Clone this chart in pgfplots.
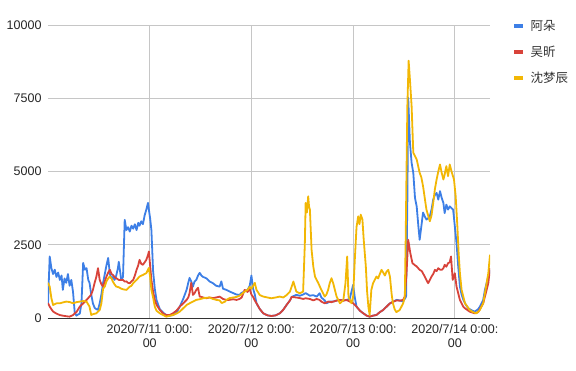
\documentclass[border=0pt]{standalone}
\usepackage{pgfplots}
\pgfplotsset{compat=1.18}
\usepackage{fontspec}
\setmainfont{Liberation Sans}
\newfontfamily\cjk{Noto Sans CJK SC}
\definecolor{cblue}{HTML}{3D7FE6}
\definecolor{cred}{HTML}{D8433A}
\definecolor{cyellow}{HTML}{F2B705}
\definecolor{gridc}{HTML}{C6C6C6}
\begin{document}
\begin{tikzpicture}
\useasboundingbox (-48pt,-52pt) rectangle (528pt,318pt);
\begin{axis}[
  at={(0,0)}, anchor=south west,
  scale only axis, width=442pt, height=293pt,
  xmin=0, xmax=104.3, ymin=0, ymax=10000,
  scaled y ticks=false,
  axis line style={draw=none},
  major tick length=0pt,
  ytick={0,2500,5000,7500,10000},
  yticklabels={0,2500,5000,7500,10000},
  xtick={24,48,72,96},
  xticklabels={{2020/7/11 0:00:\\00},{2020/7/12 0:00:\\00},{2020/7/13 0:00:\\00},{2020/7/14 0:00:\\00}},
  xticklabel style={align=center, font=\fontsize{12.5}{14}\selectfont, text=black!85, yshift=-3pt},
  yticklabel style={font=\fontsize{12.5}{14}\selectfont, text=black!85, xshift=-3pt},
  /pgf/number format/assume math mode=true,
  grid=major,
  grid style={gridc, line width=0.8pt},
  extra y ticks={0}, extra y tick labels={},
  extra y tick style={grid style={black!80, line width=1pt}},
  legend cell align=left,
  legend style={at={(1,1)}, anchor=north west, xshift=22pt, yshift=6pt,
    draw=none, fill=none, row sep=11pt, inner sep=0pt,
    font=\fontsize{12.5}{14}\selectfont\cjk, text=black!80,
    nodes={inner sep=1.5pt},
    /tikz/every odd column/.append style={column sep=4pt}},
  legend image code/.code={\draw[line width=4pt, line cap=butt] (0pt,0pt) -- (9pt,0pt);},
  every axis plot/.append style={line width=1.8pt, line join=round},
]
\addplot[cblue] coordinates {
(0,500) (0.4,2100) (0.8,1700) (1.2,1500) (1.6,1650) (2.0,1400) (2.4,1550) (2.8,1300) (3.2,1450) (3.5,960) (3.9,1350) (4.3,1200) (4.7,1500) (5.1,1100) (5.5,1300) (5.9,900) (6.3,200) (6.7,80) (7.1,120) (7.5,150) (7.9,500) (8.3,1880) (8.7,1650) (9.1,1700) (9.5,1300) (9.8,1200) (10.2,800) (10.6,500) (11.0,350) (11.4,300) (11.8,280) (12.2,500) (12.6,800) (13.0,1200) (13.4,1500) (13.8,1800) (14.2,2050) (14.6,1500) (15.0,1350) (15.3,1400) (15.7,1300) (16.1,1450) (16.5,1700) (16.7,1920) (17.0,1600) (17.3,1300) (17.7,1400) (18.1,3350) (18.5,3000) (18.9,3100) (19.3,2950) (19.7,3150) (20.1,3050) (20.5,3200) (20.9,3000) (21.3,3250) (21.6,3150) (22.0,3300) (22.4,3200) (22.8,3500) (23.2,3700) (23.6,3930) (23.8,3700) (24.1,3400) (24.4,3000) (24.8,1600) (25.2,1000) (25.6,620) (26.0,450) (26.4,300) (27.2,180) (27.9,100) (28.7,80) (29.5,100) (30.3,180) (31.1,390) (31.9,650) (32.7,960) (33.1,1200) (33.4,1370) (33.8,1250) (34.2,1070) (34.6,1250) (35.0,1300) (35.4,1450) (35.8,1540) (36.2,1450) (36.6,1400) (37.0,1380) (37.4,1350) (38.1,1250) (38.9,1190) (39.7,1100) (40.5,1070) (40.9,1250) (41.3,1000) (42.1,960) (42.9,900) (43.7,850) (44.5,800) (45.2,790)
(45.7,860) (47.1,960) (47.6,1100) (48.0,1450) (48.4,1000) (48.8,800) (49.2,502) (50.0,300) (50.8,160) (51.8,90) (52.7,68) (53.7,90) (54.7,160) (55.5,280) (56.3,445) (57.1,600) (57.5,720) (58.6,790) (59.4,760) (60.2,800) (60.8,850) (61.8,760) (62.6,780) (63.4,730) (64.1,845) (64.5,700) (65.3,600) (65.7,502) (66.5,560) (67.3,560) (68.1,600) (68.9,617) (69.7,600) (70.4,617) (71.2,650) (72.0,1130) (72.4,700) (72.8,388) (73.6,250) (74.4,160) (75.2,80) (75.9,46) (76.7,80) (77.5,103) (78.3,200) (79.1,274) (79.9,388) (80.7,502) (81.5,560) (82.3,620) (83.0,600) (83.8,560) (84.5,731) (84.8,4000) (85.0,7520) (85.4,6000) (85.8,5300) (86.2,4950) (86.6,4100) (87.0,3810) (87.4,3130) (87.7,2670) (88.1,3130) (88.5,3600) (88.9,3470) (89.3,3360) (89.7,3400) (90.1,3470) (90.5,3700) (90.9,4040) (91.3,4200) (91.7,4270) (92.1,4040) (92.5,4330) (92.9,4100) (93.3,3930) (93.6,3580) (94.0,3870) (94.4,3700) (94.8,3810) (95.2,3750) (95.6,3700) (96.0,3130) (96.4,2560) (96.8,1760) (97.2,1070) (97.6,800) (98.0,620) (98.6,450) (99.2,330) (100.0,260) (100.7,217) (101.5,300) (101.9,388) (102.7,620) (103.1,960) (103.7,1300) (104.3,1640)
};
\addlegendentry{阿朵}
\addplot[cred] coordinates {
(0,510) (0.4,390) (0.8,300) (1.2,220) (2.0,150) (2.8,100) (3.5,80) (4.3,60) (5.1,46) (5.9,100) (6.3,160) (6.7,200) (7.5,388) (8.3,500) (9.1,617) (9.8,731) (10.2,800) (10.6,960) (11.0,1200) (11.4,1400) (11.8,1700) (12.2,1300) (12.6,1150) (13.0,1073) (13.4,1250) (13.8,1416) (14.2,1550) (14.6,1644) (15.0,1500) (15.3,1473) (15.7,1400) (16.1,1358) (16.7,1300) (17.3,1301) (17.7,1300) (18.1,1244) (18.5,1250) (18.9,1200) (19.3,1187) (19.7,1250) (20.1,1301) (20.5,1450) (20.9,1644) (21.3,1800) (21.6,1987) (22.0,1850) (22.4,1815) (22.8,1900) (23.2,1987) (23.6,2150) (23.8,2270) (24.1,1800) (24.4,1301) (24.8,900) (25.2,617) (25.6,450) (26.4,274) (27.2,150) (27.9,103) (28.7,100) (29.5,160) (30.3,250) (31.1,388) (31.9,500) (32.7,617) (33.1,700) (33.4,845) (33.8,1200) (34.2,788) (34.6,850) (35.0,960) (35.4,1030) (35.8,731) (36.2,720) (36.6,700) (37.4,674) (38.1,700) (38.9,680) (39.7,700) (40.5,731) (41.3,650) (42.1,617) (42.9,620) (43.7,640) (44.5,617) (45.2,650) (45.7,700) (46.4,960) (47.1,890) (47.6,1000) (48.0,800) (48.4,720) (48.8,600) (49.2,502) (50.0,300) (50.8,160) (51.8,90) (52.7,68) (53.7,90) (54.7,160) (55.5,280) (56.3,445) (57.1,600) (57.5,720) (58.6,700) (59.4,680) (60.2,650) (60.8,674) (61.8,650) (62.6,600) (63.4,650) (64.1,617) (64.5,560) (65.3,502) (66.1,560) (66.9,540) (67.3,560) (68.1,590) (68.9,617) (69.7,590) (70.4,617) (71.2,560) (72.0,502) (72.8,388) (73.6,250) (74.4,160) (75.2,80) (75.9,46) (76.7,80) (77.5,103) (78.3,200) (79.1,274) (79.9,388) (80.7,502) (81.5,560) (82.3,600) (83.0,590) (83.8,620) (84.2,731) (84.6,1530) (85.0,2670) (85.5,2215) (86.0,1872) (86.6,1800) (87.0,1760) (87.7,1644) (88.2,1600) (88.9,1416) (89.3,1300) (89.7,1187) (90.1,1300) (90.5,1416) (90.9,1500) (91.3,1644) (91.7,1600) (92.1,1701) (92.5,1650) (92.9,1644) (93.3,1700) (93.6,1815) (94.0,1750) (94.4,1872) (94.8,1900) (95.1,2100) (95.5,1300) (96.0,1530) (96.4,1073) (97.2,617) (98.0,388) (98.4,331) (99.5,217) (100.7,160) (101.5,200) (102.7,502) (103.9,1187) (104.3,1700)
};
\addlegendentry{吴昕}
\addplot[cyellow] coordinates {
(0,1200) (0.4,1073) (0.8,674) (1.2,445) (2.0,500) (2.8,502) (3.5,530) (4.3,560) (5.1,545) (5.9,502) (6.7,540) (7.5,560) (8.3,580) (9.1,560) (9.8,388) (10.2,103) (10.6,130) (11.4,160) (12.2,274) (12.6,500) (13.0,1000) (13.4,1073) (13.8,1250) (14.2,1350) (14.6,1416) (15.0,1350) (15.3,1244) (15.7,1150) (16.1,1073) (16.7,1050) (17.3,1000) (17.7,980) (18.5,959) (19.3,1070) (19.7,1100) (20.1,1187) (20.9,1300) (21.6,1416) (22.4,1470) (23.2,1530) (23.8,1710) (24.1,1400) (24.4,959) (24.8,700) (25.2,388) (25.6,250) (26.4,160) (27.9,46) (29.5,103) (30.3,150) (31.1,217) (31.9,330) (32.7,445) (33.4,500) (34.2,560) (35.0,620) (35.8,640) (36.6,674) (37.4,690) (38.1,700) (38.9,650) (39.7,620) (40.5,600) (41.0,510) (41.8,560) (42.1,620) (42.9,680) (43.7,700) (44.5,720) (45.2,760) (46.4,900) (47.1,960) (47.6,1060) (48.0,1000) (48.4,1100) (48.8,1200) (49.2,959) (50.0,780) (50.8,731) (51.8,700) (52.7,674) (53.7,700) (54.7,731) (55.5,700) (56.3,780) (57.1,900) (57.9,1244) (58.6,900) (59.4,845) (60.2,900) (60.6,2500) (60.8,3930) (61.1,3600) (61.4,4155) (61.6,3800) (61.8,3700) (62.2,2329) (62.6,1758) (63.0,1416) (63.4,1300) (63.8,1187) (64.5,959) (65.3,731) (65.7,800) (66.1,959) (66.5,1200) (66.9,1358) (67.3,1187) (68.1,731) (68.9,502) (69.7,617) (70.2,1200) (70.6,2101) (70.9,731) (71.6,502) (72.0,731) (72.4,2000) (72.8,3100) (73.2,3471) (73.5,3200) (73.8,3528) (74.2,3357) (74.5,2672) (75.0,1758) (75.3,900) (75.6,388) (75.9,100) (76.3,959) (76.7,1187) (77.1,1300) (77.5,1416) (77.9,1350) (78.3,1500) (78.7,1644) (79.1,1550) (79.5,1450) (79.9,1587) (80.3,1644) (80.7,1400) (81.1,800) (81.4,502) (81.8,300) (82.2,200) (83.0,274) (83.8,502) (84.2,731) (84.4,2672) (84.6,5000) (84.8,7238) (85.1,8779) (85.4,8152) (85.8,7238) (86.2,5640) (86.6,5525) (87.0,5412) (87.7,4955) (88.1,4800) (88.5,4498) (88.9,4100) (89.3,3699) (89.7,3500) (90.1,3300) (90.5,3500) (90.9,3927) (91.3,4400) (91.7,4727) (92.1,5000) (92.5,5240) (92.9,4955) (93.3,4727) (93.6,4900) (94.0,5183) (94.4,4840) (94.8,5240) (95.2,5012) (95.8,4727) (96.2,4155) (96.6,3128) (96.9,2215) (97.2,1530) (97.6,959) (98.4,502) (99.5,274) (100.3,200) (101.1,160) (101.9,274) (102.7,502) (103.1,845) (103.9,1530) (104.3,2158)
};
\addlegendentry{沈梦辰}
\end{axis}
\end{tikzpicture}
\end{document}
